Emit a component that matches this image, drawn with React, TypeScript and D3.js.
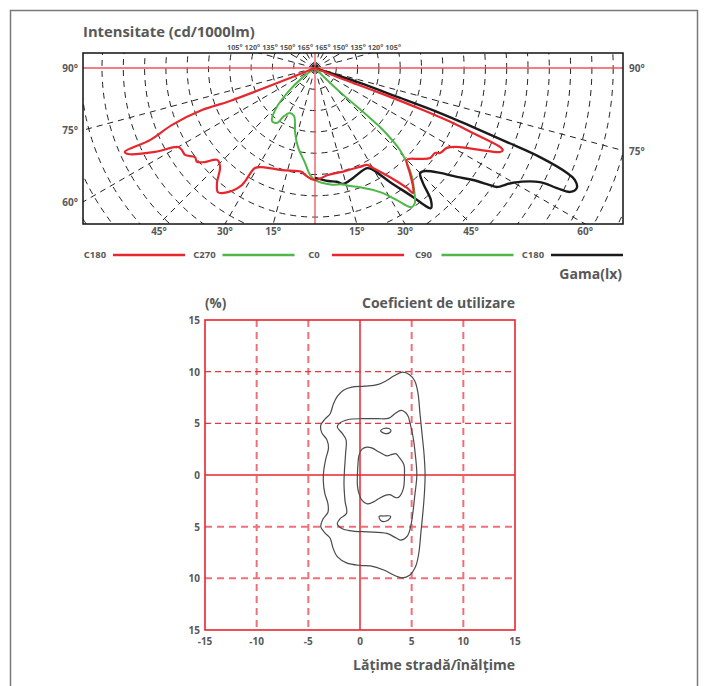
import React from 'react';
import * as d3 from 'd3';

const W = 707;
const H = 686;
const TEXT = '#585858';
const RED = '#e8262d';
const GREEN = '#4db848';
const BLACK = '#1a1a1a';
const FONT = '"Open Sans", "Liberation Sans", Arial, sans-serif';

// Polar intensity curves: [gamma angle in degrees (0 = straight down, + to the right), cd/1000lm]
const C0_C180: [number, number][] = [
  [-68, 0], [-68.2, 63], [-68.8, 214], [-69.6, 283], [-68.3, 361], [-66.4, 423], [-66.2, 488],
  [-65.3, 483], [-62.3, 424], [-60, 371], [-58.3, 367], [-56.2, 367], [-53.4, 351], [-51.5, 354],
  [-49.5, 340], [-46.8, 315], [-43.8, 322], [-40.4, 355], [-38, 370], [-35.1, 356], [-32, 324],
  [-31, 274], [-28.2, 264], [-17.9, 252], [-7.1, 246], [-5.3, 252], [0, 263], [6.9, 253],
  [14.6, 252], [24.4, 255], [28.2, 258], [30.1, 271], [34.5, 311], [37.5, 355], [38.1, 373],
  [39.5, 362], [42.1, 332], [45, 305], [49.1, 326], [52, 343], [54.7, 345], [55.8, 355],
  [58.8, 362], [60.9, 381], [63.6, 432], [65.6, 477], [66.4, 481], [66.9, 472], [67.6, 401],
  [68.2, 354], [68.7, 272], [69, 163], [68.2, 63], [68, 0],
];
const C90_C270: [number, number][] = [
  [-52, 0], [-52.4, 38], [-48.4, 85], [-45, 123], [-41.8, 148], [-39.1, 160], [-34.6, 157],
  [-33.1, 137], [-29.1, 121], [-23.6, 123], [-19.3, 142], [-17.4, 157], [-12.1, 190], [-6, 224],
  [-2.7, 251], [0, 263], [3.5, 270], [8.3, 277], [13.1, 280], [16.5, 289], [20.7, 299],
  [27.7, 329], [31.8, 365], [33.7, 389], [34.9, 398], [36.5, 394], [39.1, 369], [41.7, 342],
  [44.1, 310], [46, 277], [47.6, 216], [47.7, 174], [46.2, 81], [45, 23], [45, 0],
];
const C180_B: [number, number][] = [
  [0, 258], [6.6, 267], [10.9, 272], [13.6, 280], [19.1, 273], [27.5, 265], [29.6, 275],
  [33.3, 320], [37.2, 380], [38.9, 419], [39.6, 427], [41.3, 412], [43.2, 370], [45, 349],
  [46.9, 354], [50, 383], [52.5, 420], [54.7, 455], [56.2, 494], [56.8, 510], [59.9, 537],
  [63.1, 592], [63.6, 634], [64.1, 666], [65.4, 676], [66.7, 664], [67.4, 641], [68.4, 568],
  [68.9, 483], [69.5, 396], [70.2, 312], [70.6, 212], [71.6, 111], [71.6, 37], [72, 0],
];

const ringValues = d3.range(50, 850, 50);
const radialAngles = d3.range(-165, 181, 15);
const topDegLabels = ['105', '120', '135', '150', '165', '165', '150', '135', '120', '105'];
const bottomAngles = [-45, -30, -15, 15, 30, 45, 60];
const leftAngles = [90, 75, 60];
const rightAngles = [90, 75];
const legendLabels = ['C180', 'C270', 'C0', 'C90', 'C180'];
const legendColors = [RED, GREEN, RED, GREEN, BLACK];

// Utilisation contours, [road width / height, %]
const contourOuter: [number, number][] = [
  [6.3, 0], [6.2, 2], [6.0, 4], [5.8, 6], [5.6, 8], [5.3, 9.1], [4.8, 9.7], [4.1, 9.95], [3.3, 9.6],
  [2.5, 9.1], [1.7, 8.75], [0.5, 8.6], [-0.8, 8.5], [-1.6, 8.2], [-2.2, 7.6], [-2.6, 6.8], [-2.9, 5.9],
  [-3.4, 5.4], [-3.8, 4.8], [-3.7, 4.1], [-3.2, 3.4], [-3.05, 2.6], [-3.3, 1.6], [-3.5, 0.5],
  [-3.55, -0.6], [-3.4, -1.8], [-3.1, -2.8], [-3.1, -3.6], [-3.6, -4.3], [-3.8, -5.0], [-3.4, -5.6],
  [-2.9, -6.1], [-2.6, -7.1], [-2.2, -7.9], [-1.3, -8.5], [0, -8.75], [1.0, -8.8], [2.3, -9.2],
  [3.3, -9.7], [4.1, -9.95], [4.8, -9.7], [5.4, -8.8], [5.7, -7.5], [5.9, -5.5], [6.1, -3.5], [6.25, -1.5],
];
const contourMiddle: [number, number][] = [
  [5.5, 0], [5.35, 2], [5.15, 3.6], [4.85, 5.0], [4.6, 5.8], [4.0, 6.25], [3.4, 5.95], [2.8, 5.5],
  [1.7, 5.45], [0.3, 5.45], [-1.2, 5.35], [-2.0, 5.0], [-2.2, 4.65], [-1.7, 4.0], [-1.35, 3.4],
  [-1.4, 2.0], [-1.5, 0.5], [-1.55, -0.8], [-1.45, -2.5], [-1.3, -3.7], [-1.9, -4.2], [-2.2, -4.7],
  [-1.7, -5.2], [-0.5, -5.45], [0.8, -5.5], [2.6, -5.65], [3.5, -6.1], [4.0, -6.3], [4.6, -5.9],
  [4.9, -5.0], [5.1, -3.8], [5.3, -2.0],
];
const contourInner: [number, number][] = [
  [4.3, 0], [4.25, 1.0], [3.8, 1.7], [3.5, 2.05], [3.1, 2.0], [2.6, 1.85], [1.8, 2.25], [1.2, 2.6],
  [0.65, 2.7], [0.2, 2.5], [-0.1, 1.9], [-0.2, 1.0], [-0.25, 0], [-0.25, -1.0], [-0.1, -1.8],
  [0.2, -2.45], [0.7, -2.8], [1.3, -2.6], [1.8, -2.3], [2.5, -1.95], [2.9, -1.9], [3.5, -2.2],
  [3.8, -2.1], [4.2, -1.3],
];
const contourSmallTop: [number, number][] = [
  [2.0, 4.3], [2.3, 4.5], [2.8, 4.5], [3.0, 4.3], [2.8, 4.05], [2.3, 4.05],
];
const contourSmallBottom: [number, number][] = [
  [1.85, -4.0], [2.3, -3.97], [2.95, -3.98], [2.9, -4.2], [2.4, -4.5], [2.0, -4.4],
];
const xTicks = [-15, -10, -5, 0, 5, 10, 15];
const yTicks = [-15, -10, -5, 0, 5, 10, 15];

export default function App() {
  // ---- top polar chart ----
  const box = { x0: 83, x1: 623, y0: 53, y1: 224 };
  const cx = 315;
  const cy = 68;
  const rScale = d3.scaleLinear().domain([0, 50]).range([0, 21.3]);
  const polarLine = d3
    .lineRadial<[number, number]>()
    .angle((d) => Math.PI - (d[0] * Math.PI) / 180)
    .radius((d) => rScale(d[1]))
    .curve(d3.curveCatmullRom.alpha(0.5));
  const rad = (a: number) => (a * Math.PI) / 180;

  // ---- bottom chart ----
  const xs = d3.scaleLinear().domain([-15, 15]).range([205, 515]);
  const ys = d3.scaleLinear().domain([-15, 15]).range([630, 320]);
  const contourLine = d3
    .line<[number, number]>()
    .x((d) => xs(d[0]))
    .y((d) => ys(d[1]))
    .curve(d3.curveCatmullRomClosed.alpha(0.5));

  const bold = { fontFamily: FONT, fontWeight: 700, fill: TEXT } as const;

  return (
    <svg
      width={W}
      height={H}
      style={{ position: 'absolute', left: 0, top: 0, background: '#fff' }}
    >
      <defs>
        <clipPath id="topclip">
          <rect x={box.x0} y={box.y0} width={box.x1 - box.x0} height={box.y1 - box.y0} />
        </clipPath>
      </defs>
      {/* outer frame */}
      <path d={`M10.5,${H + 2} V10.5 H697.5 V${H + 2}`} fill="none" stroke="#7a7a7a" strokeWidth={1.5} />

      {/* ---------- TOP CHART ---------- */}
      <text x={83} y={37} fontSize={14.8} {...bold}>Intensitate (cd/1000lm)</text>

      <g clipPath="url(#topclip)">
        {ringValues.map((v) => (
          <circle key={'r' + v} cx={cx} cy={cy} r={rScale(v)} fill="none" stroke="#222"
            strokeWidth={1} strokeDasharray="6 5" />
        ))}
        {radialAngles
          .filter((a) => a % 90 !== 0)
          .map((a) => (
            <line key={'a' + a} x1={cx} y1={cy} x2={cx + 500 * Math.sin(rad(a))}
              y2={cy + 500 * Math.cos(rad(a))} stroke="#222" strokeWidth={1} strokeDasharray="6 5" />
          ))}
        <line x1={box.x0} x2={box.x1} y1={cy} y2={cy} stroke="#f0525a" strokeWidth={1.3} />
        <line x1={cx} x2={cx} y1={box.y0} y2={box.y1} stroke="#f0525a" strokeWidth={1.3} />
        <g transform={`translate(${cx},${cy})`}>
          <path d={polarLine(C180_B) || ''} fill="none" stroke={BLACK} strokeWidth={2.4} />
          <path d={polarLine(C90_C270) || ''} fill="none" stroke={GREEN} strokeWidth={2} />
          <path d={polarLine(C0_C180) || ''} fill="none" stroke={RED} strokeWidth={2.2} />
        </g>
      </g>
      <rect x={box.x0} y={box.y0} width={box.x1 - box.x0} height={box.y1 - box.y0} fill="none"
        stroke="#111" strokeWidth={1.5} />

      {/* top degree labels */}
      {topDegLabels.map((t, i) => (
        <text key={'t' + i} x={cx + (i - 4.5) * 17.6 - 1} y={50} fontSize={7.3} textAnchor="middle" {...bold}>
          {t}°
        </text>
      ))}
      {/* bottom labels */}
      {bottomAngles.map((a) => (
        <text key={'b' + a} x={cx + (box.y1 - cy) * Math.tan(rad(Math.abs(a))) * Math.sign(a)} y={235}
          fontSize={10} textAnchor="middle" {...bold}>
          {Math.abs(a)}°
        </text>
      ))}
      {leftAngles.map((a) => (
        <text key={'l' + a} x={78} y={cy + (cx - box.x0) / Math.tan(rad(a)) + 4} fontSize={10}
          textAnchor="end" {...bold}>
          {a}°
        </text>
      ))}
      {rightAngles.map((a) => (
        <text key={'rr' + a} x={629} y={cy + (box.x1 - cx) / Math.tan(rad(a)) + 4} fontSize={10}
          textAnchor="start" {...bold}>
          {a}°
        </text>
      ))}

      {/* legend */}
      {legendLabels.map((l, i) => (
        <g key={'lg' + i}>
          <text x={95 + i * 109.5} y={258} fontSize={9.5} textAnchor="middle" {...bold}>{l}</text>
          <line x1={113 + i * 109.5} x2={185 + i * 109.5} y1={255} y2={255} stroke={legendColors[i]}
            strokeWidth={2.5} />
        </g>
      ))}
      <text x={622} y={279} fontSize={14} textAnchor="end" {...bold}>Gama(lx)</text>

      {/* ---------- BOTTOM CHART ---------- */}
      <text x={205} y={308} fontSize={13.5} {...bold}>(%)</text>
      <text x={515} y={308} fontSize={14} textAnchor="end" {...bold}>Coeficient de utilizare</text>

      {xTicks
        .filter((v) => v !== 0 && Math.abs(v) !== 15)
        .map((v) => (
          <line key={'gx' + v} x1={xs(v)} x2={xs(v)} y1={ys(15)} y2={ys(-15)} stroke="#f0707a"
            strokeWidth={2} strokeDasharray="7 5" />
        ))}
      {yTicks
        .filter((v) => v !== 0 && Math.abs(v) !== 15)
        .map((v) => (
          <line key={'gy' + v} x1={xs(-15)} x2={xs(15)} y1={ys(v)} y2={ys(v)}
            stroke={v > 0 ? '#e23a44' : '#f0707a'} strokeWidth={v > 0 ? 1.2 : 2}
            strokeDasharray={v > 0 ? '6 4' : '7 5'} />
        ))}
      <line x1={xs(0)} x2={xs(0)} y1={ys(15)} y2={ys(-15)} stroke={RED} strokeWidth={1.5} />
      <line x1={xs(-15)} x2={xs(15)} y1={ys(0)} y2={ys(0)} stroke={RED} strokeWidth={1.5} />
      <rect x={xs(-15)} y={ys(15)} width={xs(15) - xs(-15)} height={ys(-15) - ys(15)} fill="none"
        stroke={RED} strokeWidth={1.6} />

      <g fill="none" stroke="#4a4a4a" strokeWidth={1.2}>
        <path d={contourLine(contourOuter) || ''} />
        <path d={contourLine(contourMiddle) || ''} />
        <path d={contourLine(contourInner) || ''} />
        <path d={contourLine(contourSmallTop) || ''} />
        <path d={contourLine(contourSmallBottom) || ''} />
      </g>

      {yTicks.map((v) => (
        <text key={'yt' + v} x={200} y={ys(v) + 4} fontSize={10} textAnchor="end" {...bold}>
          {Math.abs(v)}
        </text>
      ))}
      {xTicks.map((v) => (
        <text key={'xt' + v} x={xs(v)} y={645} fontSize={10} textAnchor="middle" {...bold}>
          {v}
        </text>
      ))}
      <text x={515} y={670} fontSize={14} textAnchor="end" {...bold}>Lățime stradă/înălțime</text>
    </svg>
  );
}
